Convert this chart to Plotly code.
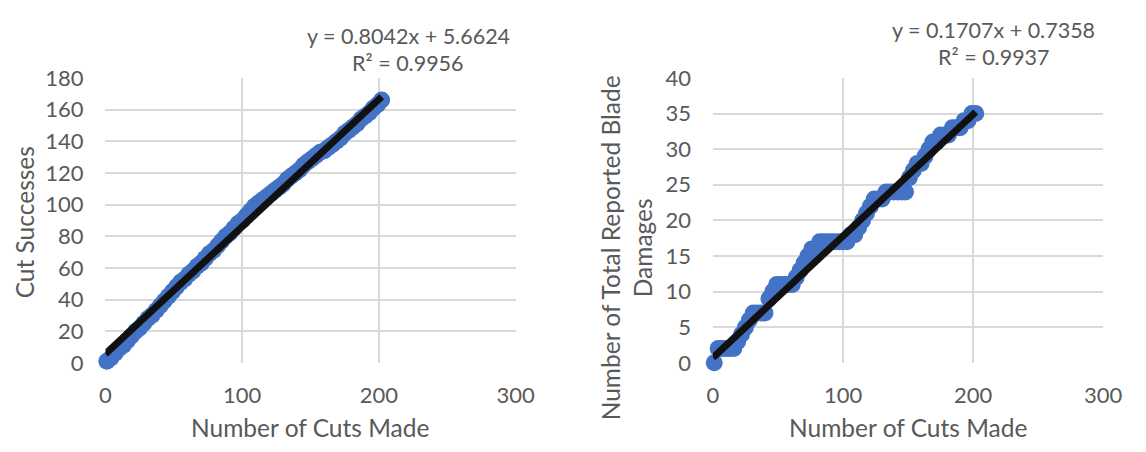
import plotly.graph_objects as go

# ---------------- data ----------------
cuts = [1, 4, 7, 10, 13, 16, 19, 22, 25, 28, 31, 34, 37, 40, 43, 46, 49, 52, 55, 58,
        61, 64, 67, 70, 73, 76, 79, 82, 85, 88, 91, 94, 97, 100, 103, 106, 109, 112,
        115, 118, 121, 124, 127, 130, 133, 136, 139, 142, 145, 148, 151, 154, 157,
        160, 163, 166, 169, 172, 175, 178, 181, 184, 187, 190, 193, 196, 199, 202]

cut_successes = [1, 3, 6, 9, 11, 14, 17, 20, 22, 25, 28, 30, 33, 36, 39, 42, 45, 48,
                 51, 53, 56, 58, 61, 63, 66, 69, 71, 74, 77, 80, 82, 85, 88, 90, 93,
                 96, 99, 101, 103, 105, 107, 109, 111, 113, 116, 118, 120, 122, 125,
                 127, 129, 131, 133, 134, 136, 138, 140, 142, 145, 147, 149, 151, 154,
                 156, 158, 161, 163, 166]

blade_damages = [0, 2, 2, 2, 2, 2, 3, 4, 5, 6, 7, 7, 7, 7, 9, 10, 11, 11, 11, 11,
                 11, 12, 13, 14, 15, 16, 16, 17, 17, 17, 17, 17, 17, 17, 17, 18, 18,
                 19, 20, 21, 22, 23, 23, 23, 24, 24, 24, 24, 24, 24, 26, 27, 28, 28,
                 29, 30, 31, 31, 32, 32, 32, 33, 33, 33, 34, 34, 35, 35]

# trendline coefficients (from chart labels)
trend_left = (0.8042, 5.6624, 0.9956)
trend_right = (0.1707, 0.7358, 0.9937)

x_ticks = [0, 100, 200, 300]

# ---------------- style ----------------
FONT = "Lato"
TXT = "#595959"
GRID = "#d9d9d9"
BLUE = "#4472C4"

W, H = 1146, 452
def px_x(p):
    return p / W
def px_y(p):
    return 1 - p / H

left_dom = [px_x(101.7), px_x(521)]
right_dom = [px_x(722.7), px_x(1121.7)]
y_dom = [px_y(371), px_y(68)]

fig = go.Figure()

def add_panel(xref, yref, ys, trend):
    m, b, r2 = trend
    fig.add_trace(go.Scatter(
        x=cuts, y=ys, mode="markers", xaxis=xref, yaxis=yref,
        marker=dict(size=17, color=BLUE, line=dict(width=0)),
        cliponaxis=False, showlegend=False, hoverinfo="skip"))
    tx = [min(cuts) - 1, max(cuts)]
    fig.add_trace(go.Scatter(
        x=tx, y=[m * v + b for v in tx], mode="lines", xaxis=xref, yaxis=yref,
        line=dict(color="#111111", width=7), cliponaxis=False,
        showlegend=False, hoverinfo="skip"))

add_panel("x", "y", cut_successes, trend_left)
add_panel("x2", "y2", blade_damages, trend_right)

axis_common = dict(
    showgrid=True, gridcolor=GRID, gridwidth=1.5,
    zeroline=False, showline=False, ticks="",
    tickfont=dict(family=FONT, size=22, color=TXT),
    fixedrange=True,
)

fig.update_layout(
    width=W, height=H,
    margin=dict(l=0, r=0, t=0, b=0),
    paper_bgcolor="white", plot_bgcolor="white",
    xaxis=dict(domain=left_dom, range=[0, 300], tickvals=x_ticks,
               anchor="y", ticklabelstandoff=17, **axis_common),
    yaxis=dict(domain=y_dom, range=[0, 180], dtick=20,
               anchor="x", ticklabelstandoff=21, **axis_common),
    xaxis2=dict(domain=right_dom, range=[0, 300], tickvals=x_ticks,
                anchor="y2", ticklabelstandoff=17, **axis_common),
    yaxis2=dict(domain=y_dom, range=[0, 40], dtick=5,
                anchor="x2", ticklabelstandoff=21, **axis_common),
)

title_font = dict(family=FONT, size=24.5, color=TXT)
eq_font = dict(family=FONT, size=21.5, color=TXT)

def ann(text, x, y, font, angle=0):
    fig.add_annotation(text=text, x=px_x(x), y=px_y(y), xref="paper", yref="paper",
                       showarrow=False, xanchor="center", yanchor="middle",
                       font=font, textangle=angle)

ann("Number of Cuts Made", 311, 440, title_font)
ann("Number of Cuts Made", 922, 440, title_font)
ann("Cut Successes", 19, 222, title_font, -90)
ann("Number of Total Reported Blade<br>Damages", 634, 249, title_font, -90)

m, b, r2 = trend_left
ann(f"y = {m}x + {b}", 411, 23, eq_font)
ann(f"R² = {r2}", 411, 52, eq_font)
m, b, r2 = trend_right
ann(f"y = {m}x + {b}", 1010, 17, eq_font)
ann(f"R² = {r2}", 1010, 46, eq_font)

fig.write_html("out.html")
